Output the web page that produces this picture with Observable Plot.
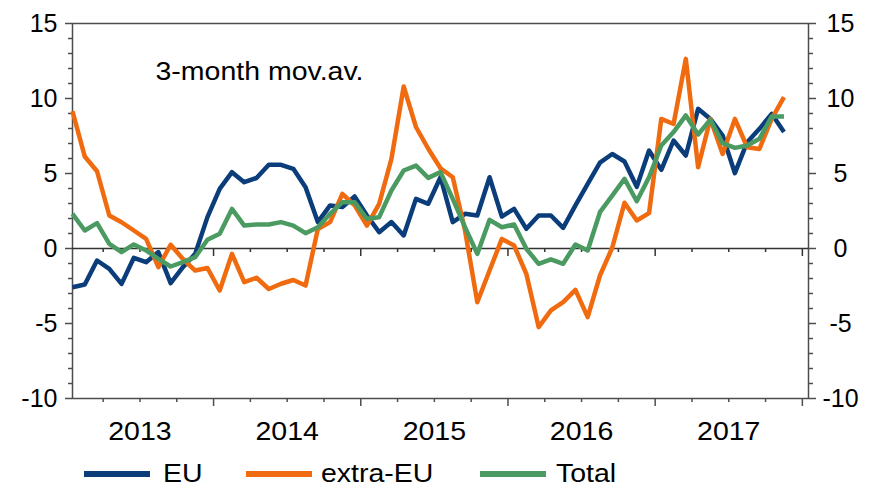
<!DOCTYPE html>
<html>
<head>
<meta charset="utf-8">
<script src="https://cdn.jsdelivr.net/npm/d3@7"></script>
<script src="https://cdn.jsdelivr.net/npm/@observablehq/plot@0.6"></script>
<style>
  html, body { margin: 0; padding: 0; background: #fff; }
  #wrap { width: 872px; font-family: Arial, "Liberation Sans", sans-serif; }
  #legend { position: relative; width: 872px; height: 37px; font-size: 25px; color: #000; }
  .sw { position: absolute; top: 21px; height: 6px; }
  .lab { position: absolute; top: 9px; line-height: 28px; transform-origin: left center; transform: scaleX(1.14); }
</style>
</head>
<body>
<div id="wrap">
  <div id="chart"></div>
  <div id="legend"></div>
</div>
<script>
// Monthly data, Jan 2013 .. Nov 2017 (3-month moving average, %)
const yearLabels = ["2013", "2014", "2015", "2016", "2017"];
const seriesNames = ["EU", "extra-EU", "Total"];
const seriesColors = ["#0b3d7a", "#f06b0f", "#4a9a62"];

const eu = [
  -2.58, -2.4, -0.8, -1.36, -2.36, -0.62, -0.91, -0.24, -2.31, -1.24,
  -0.36, 2.09, 3.98, 5.09, 4.42, 4.7, 5.58, 5.58, 5.31, 4.09,
  1.76, 2.87, 2.76, 3.47, 2.2, 1.09, 1.76, 0.87, 3.31, 2.98,
  4.75, 1.76, 2.31, 2.2, 4.75, 2.13, 2.64, 1.31, 2.2, 2.2,
  1.38, 2.87, 4.31, 5.73, 6.3, 5.8, 4.11, 6.53, 5.24, 7.2,
  6.2, 9.31, 8.64, 7.53, 5.02, 7.09, 7.98, 8.98, 7.76
];
const extraEU = [
  9.15, 6.13, 5.15, 2.2, 1.75, 1.2, 0.64, -1.24, 0.25, -0.7,
  -1.47, -1.3, -2.8, -0.36, -2.24, -1.95, -2.7, -2.35, -2.1, -2.47,
  1.3, 1.76, 3.64, 2.87, 1.53, 2.98, 5.98, 10.8, 8.1, 6.65,
  5.35, 4.75, 1.2, -3.58, -1.47, 0.64, 0.2, -1.7, -5.24, -4.13,
  -3.58, -2.76, -4.58, -1.8, 0.05, 3.05, 1.87, 2.36, 8.64, 8.3,
  12.64, 5.42, 8.64, 6.3, 8.64, 6.75, 6.64, 8.64, 10.09
];
const total = [
  2.31, 1.2, 1.69, 0.31, -0.24, 0.27, -0.13, -0.69, -1.2, -0.91,
  -0.58, 0.58, 0.98, 2.64, 1.53, 1.6, 1.6, 1.76, 1.53, 1.02,
  1.42, 2.31, 3.09, 3.09, 1.98, 2.09, 3.87, 5.2, 5.53, 4.71,
  5.09, 3.31, 1.42, -0.36, 1.91, 1.42, 1.6, -0.02, -1.02, -0.72,
  -1.02, 0.27, -0.13, 2.42, 3.53, 4.64, 3.15, 4.75, 6.87, 7.76,
  8.87, 7.6, 8.58, 7.02, 6.71, 6.87, 7.31, 8.8, 8.8
];
const yMajor = [-10, -5, 0, 5, 10, 15];

// ---- build table ----
const allSeries = [eu, extraEU, total];
const rows = [];
allSeries.forEach((vals, s) => vals.forEach((v, i) => rows.push({series: seriesNames[s], month: i, value: v})));

const nYears = yearLabels.length;
const quarterTicks = d3.range(0, nYears * 4).map(q => q * 3 + 2.5).filter(t => (t + 0.5) % 12 !== 0);
const yearTicks = d3.range(1, nYears + 1).map(k => k * 12 - 0.5);
const yearCenters = d3.range(nYears).map(k => k * 12 + 5.5);
const yMinor = d3.range(-10, 16, 1).filter(v => v % 5 !== 0);

const axisColor = "#4d4d4d";
const chart = Plot.plot({
  width: 872,
  height: 450,
  marginLeft: 72,
  marginRight: 64,
  marginTop: 23,
  marginBottom: 52,
  x: {domain: [0, nYears * 12], axis: null},
  y: {domain: [-10, 15], axis: null},
  color: {domain: seriesNames, range: seriesColors},
  style: {fontFamily: "Arial, 'Liberation Sans', sans-serif", fontSize: "25px", color: "#000", background: "#fff", overflow: "visible"},
  marks: [
    Plot.frame({stroke: axisColor, strokeWidth: 1.5}),
    Plot.ruleY([0], {stroke: "#333", strokeWidth: 1.5}),
    // left y axis
    Plot.axisY({anchor: "left", ticks: yMajor, tickSize: 7, tickPadding: 8, label: null, stroke: axisColor, strokeWidth: 1.5, tickFormat: d => String(d)}),
    Plot.axisY({anchor: "left", ticks: yMinor, tickSize: 4, tickFormat: () => "", label: null, stroke: axisColor, strokeWidth: 1.5}),
    // right y axis
    Plot.axisY({anchor: "right", ticks: yMajor, tickSize: 7, tickPadding: 25, textAnchor: "middle", label: null, stroke: axisColor, strokeWidth: 1.5, tickFormat: d => String(d)}),
    Plot.axisY({anchor: "right", ticks: yMinor, tickSize: 4, tickFormat: () => "", label: null, stroke: axisColor, strokeWidth: 1.5}),
    // bottom x axis ticks
    Plot.axisX({anchor: "bottom", ticks: quarterTicks, tickSize: 4, tickFormat: () => "", label: null, stroke: axisColor, strokeWidth: 1.5}),
    Plot.axisX({anchor: "bottom", ticks: yearTicks, tickSize: 8, tickFormat: () => "", label: null, stroke: axisColor, strokeWidth: 1.5}),
    Plot.axisX({anchor: "bottom", ticks: yearCenters, tickSize: 0, tickPadding: 24, label: null, tickFormat: (d, i) => yearLabels[i]}),
    // ticks on the zero line
    Plot.ruleX(quarterTicks, {x: d => d, y1: 0, y2: -4 / 15, stroke: "#333", strokeWidth: 1.5}),
    Plot.ruleX(yearTicks, {x: d => d, y1: 0, y2: -8 / 15, stroke: "#333", strokeWidth: 1.5}),
    // annotation
    Plot.text(["3-month mov.av."], {frameAnchor: "top-left", dx: 83, dy: 48, lineAnchor: "middle", textAnchor: "start", fontSize: 25, fill: "#000"}),
    // series
    Plot.line(rows, {x: "month", y: "value", z: "series", stroke: "series", strokeWidth: 4.5, strokeLinejoin: "round", strokeLinecap: "butt"})
  ]
});
document.getElementById("chart").appendChild(chart);

// the reference's year labels and note are set slightly wide: widen those glyphs about each anchor point
chart.querySelectorAll("text").forEach(el => {
  const g = el.closest("g[aria-label]");
  if (g && /y-axis/.test(g.getAttribute("aria-label"))) return;
  const t = el.getAttribute("transform") || "";
  el.setAttribute("transform", (t + " scale(1.14,1)").trim());
});

// legend
const legend = document.getElementById("legend");
const swatchX = [84, 246, 480];
const labelX = [163, 321, 556];
seriesNames.forEach((name, i) => {
  const sw = document.createElement("div");
  sw.className = "sw";
  sw.style.left = swatchX[i] + "px";
  sw.style.width = "66px";
  sw.style.background = seriesColors[i];
  legend.appendChild(sw);
  const lb = document.createElement("div");
  lb.className = "lab";
  lb.style.left = labelX[i] + "px";
  lb.textContent = name;
  legend.appendChild(lb);
});
</script>
</body>
</html>
